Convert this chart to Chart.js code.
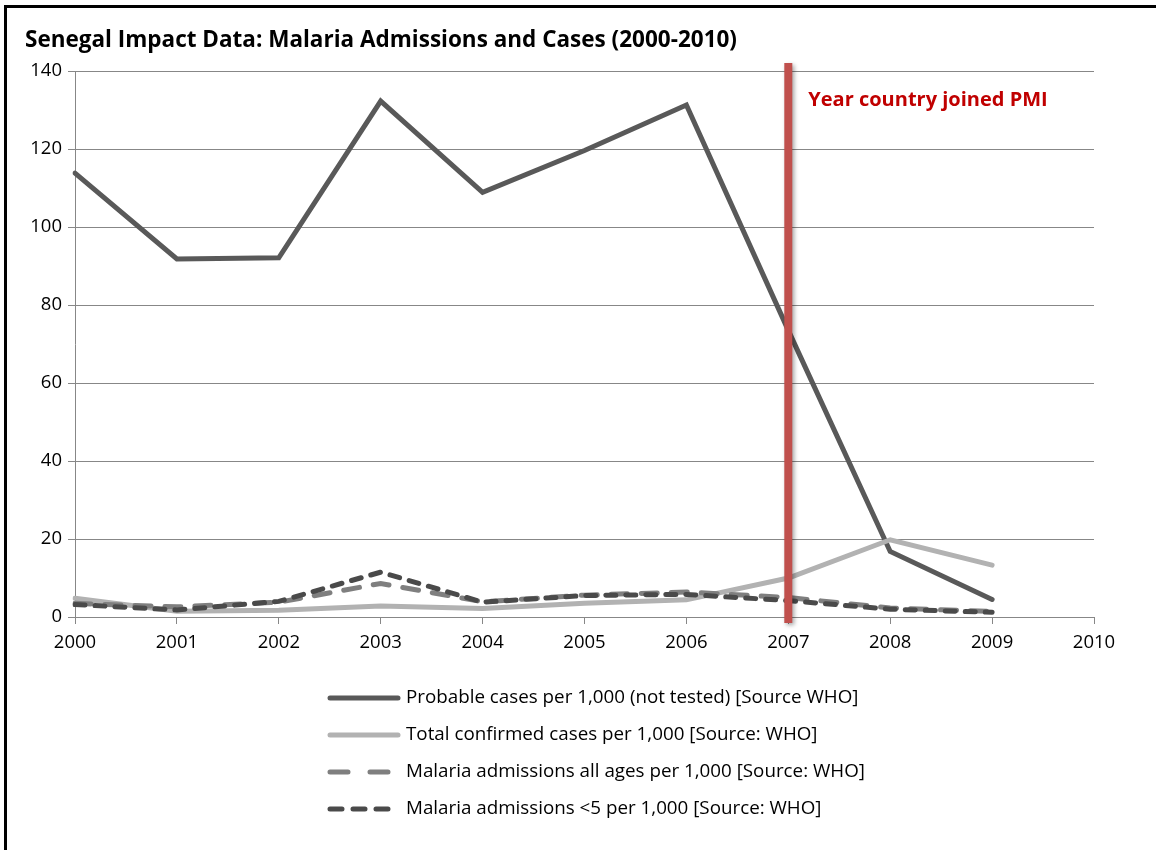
<!DOCTYPE html>
<html>
<head>
<meta charset="utf-8">
<title>Senegal Impact Data</title>
<script src="https://cdn.jsdelivr.net/npm/chart.js@4/dist/chart.umd.min.js"></script>
<style>
  html, body { margin: 0; padding: 0; background: #fff; }
  #frame {
    position: absolute; left: 4px; top: 5px;
    width: 1152px; height: 845px;
    border-top: 3px solid #000; border-left: 3px solid #000;
  }
  #frame canvas { display: block; }
</style>
</head>
<body>
<div id="frame"><canvas id="grafico" width="1149" height="842"></canvas></div>
<script>
const titulo = 'Senegal Impact Data: Malaria Admissions and Cases (2000-2010)'
const anos = ['2000', '2001', '2002', '2003', '2004', '2005', '2006', '2007', '2008', '2009', '2010']
const casos_provaveis = [113.8, 91.8, 92.1, 132.3, 108.9, 119.6, 131.3, 73.5, 16.8, 4.5]
const casos_confirmados = [4.8, 1.5, 1.7, 2.8, 2.2, 3.5, 4.4, 10.0, 19.8, 13.3]
const internacoes_todas = [3.5, 2.6, 3.8, 8.6, 3.9, 5.6, 6.4, 5.0, 2.3, 1.4]
const internacoes_menor5 = [3.2, 1.8, 4.0, 11.5, 3.8, 5.5, 5.8, 4.2, 2.0, 1.2]
const ano_pmi = '2007'
const texto_pmi = 'Year country joined PMI'

const fonte = "'Open Sans', 'Liberation Sans', sans-serif"
const cinza_grade = '#878787'

const datasets = [
    {
        label: 'Probable cases per 1,000 (not tested) [Source WHO]',
        data: casos_provaveis,
        borderColor: '#595959',
        legendDash: [],
        order: 4
    },
    {
        label: 'Total confirmed cases per 1,000 [Source: WHO]',
        data: casos_confirmados,
        borderColor: '#b2b2b2',
        legendDash: [],
        order: 3
    },
    {
        label: 'Malaria admissions all ages per 1,000 [Source: WHO]',
        data: internacoes_todas,
        borderColor: '#7f7f7f',
        borderDash: [16, 14],
        legendDash: [18, 22],
        order: 2
    },
    {
        label: 'Malaria admissions <5 per 1,000 [Source: WHO]',
        data: internacoes_menor5,
        borderColor: '#4a4a4a',
        borderDash: [10, 10],
        legendDash: [12, 11],
        order: 1
    }
]
datasets.forEach(d => {
    d.borderWidth = 5
    d.borderCapStyle = 'round'
    d.pointRadius = 0
    d.fill = false
    d.tension = 0
})

// titulo, barra vermelha do PMI e legenda vertical
const extras = {
    id: 'extras',
    afterDatasetsDraw(chart) {
        const ctx = chart.ctx
        const area = chart.chartArea
        const x = chart.scales.x.getPixelForValue(anos.indexOf(ano_pmi))
        ctx.save()
        ctx.shadowColor = 'rgba(0,0,0,0.35)'
        ctx.shadowBlur = 4
        ctx.shadowOffsetX = 2
        ctx.shadowOffsetY = 2
        ctx.fillStyle = '#c0504d'
        ctx.fillRect(x - 4, area.top - 8, 8, area.bottom - area.top + 14)
        ctx.restore()

        ctx.save()
        ctx.fillStyle = '#c00000'
        ctx.font = 'bold 20px ' + fonte
        ctx.textBaseline = 'middle'
        ctx.fillText(texto_pmi, x + 20, area.top + 29)
        ctx.restore()
    },
    afterDraw(chart) {
        const ctx = chart.ctx
        ctx.save()
        ctx.fillStyle = '#000'
        ctx.font = 'bold 22.5px ' + fonte
        ctx.textBaseline = 'alphabetic'
        ctx.fillText(titulo, 18, 39)

        ctx.font = '18.8px ' + fonte
        ctx.textBaseline = 'middle'
        chart.data.datasets.forEach((d, i) => {
            const y = 690 + i * 37
            ctx.beginPath()
            ctx.setLineDash(d.legendDash)
            ctx.lineCap = 'round'
            ctx.lineWidth = 5
            ctx.strokeStyle = d.borderColor
            ctx.moveTo(323, y)
            ctx.lineTo(391, y)
            ctx.stroke()
            ctx.setLineDash([])
            ctx.fillStyle = '#000'
            ctx.fillText(d.label, 399, y)
        })
        ctx.restore()
    }
}

const config = {
    type: 'line',
    data: { labels: anos, datasets: datasets },
    options: {
        responsive: false,
        animation: false,
        layout: { padding: { left: 8, right: 62, top: 63, bottom: 193 } },
        plugins: {
            legend: { display: false },
            title: { display: false },
            tooltip: { enabled: false }
        },
        scales: {
            x: {
                offset: false,
                grid: { drawOnChartArea: false, color: cinza_grade, tickLength: 7 },
                border: { color: cinza_grade },
                ticks: { color: '#000', font: { family: fonte, size: 18.5 }, maxRotation: 0, padding: 8 },
                afterFit(s) { s.height = 40 }
            },
            y: {
                min: 0,
                max: 140,
                ticks: { stepSize: 20, color: '#000', font: { family: fonte, size: 18.5 }, padding: 6 },
                grid: { color: cinza_grade, tickLength: 7 },
                border: { color: cinza_grade },
                afterFit(s) { s.width = 60 }
            }
        }
    },
    plugins: [extras]
}

const grafico = new Chart(document.querySelector('#grafico'), config)
</script>
</body>
</html>
